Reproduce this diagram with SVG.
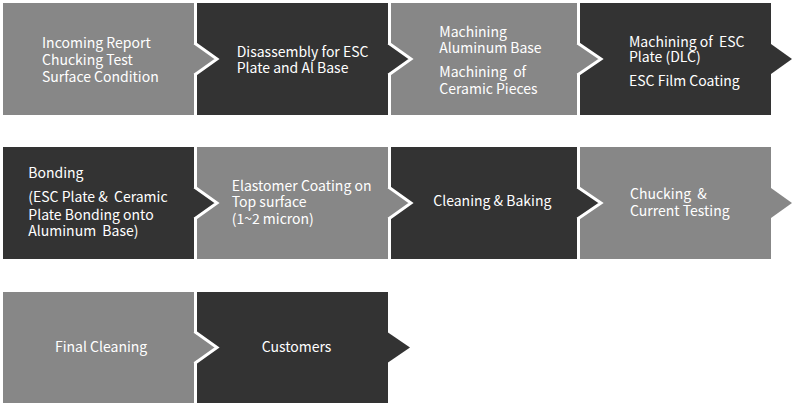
<svg xmlns="http://www.w3.org/2000/svg" width="797" height="416" viewBox="0 0 797 416">
<style>
.l{fill:#878787}
.d{fill:#333333}
.edge{fill:none;stroke:#ffffff;stroke-width:3;stroke-linejoin:miter}
text{font-family:"Noto Sans CJK KR","Noto Sans",sans-serif;font-size:14px;fill:#ffffff;white-space:pre}
</style>
<rect width="797" height="416" fill="#ffffff"/>
<g id="n1"><rect class="l" x="3" y="3" width="191" height="112"/>
<text x="42" y="48.3">Incoming Report</text><text x="42" y="65">Chucking Test</text><text x="42" y="81.7">Surface Condition</text></g>
<g id="n2"><rect class="d" x="197" y="3" width="191" height="112"/>
<text x="236.7" y="56.7">Disassembly for ESC</text><text x="236.7" y="73.3">Plate and Al Base</text></g>
<g id="n3"><rect class="l" x="391" y="3" width="186" height="112"/>
<text x="439.3" y="36.7">Machining</text><text x="439.3" y="53.3">Aluminum Base</text><text x="439.3" y="76.7">Machining  of</text><text x="439.3" y="94">Ceramic Pieces</text></g>
<g id="n4"><rect class="d" x="580" y="3" width="191" height="112"/>
<text x="629" y="46.7">Machining of  ESC</text><text x="629" y="62.3">Plate (DLC)</text><text x="629" y="85.7">ESC Film Coating</text></g>
<g id="n5"><rect class="d" x="3" y="147" width="191" height="112"/>
<text x="28.3" y="178.3">Bonding</text><text x="28.3" y="202.3">(ESC Plate &amp;  Ceramic</text><text x="28.3" y="219.7">Plate Bonding onto</text><text x="28.3" y="236.3">Aluminum  Base)</text></g>
<g id="n6"><rect class="l" x="197" y="147" width="191" height="112"/>
<text x="231.7" y="190.7">Elastomer Coating on</text><text x="231.7" y="207.3">Top surface</text><text x="231.7" y="224">(1~2 micron)</text></g>
<g id="n7"><rect class="d" x="391" y="147" width="186" height="112"/>
<text x="433.3" y="205.7">Cleaning &amp; Baking</text></g>
<g id="n8"><rect class="l" x="580" y="147" width="191" height="112"/>
<text x="630" y="199">Chucking  &amp;</text><text x="630" y="215.7">Current Testing</text></g>
<g id="n9"><rect class="l" x="3" y="292" width="191" height="111"/>
<text x="55" y="352.3">Final Cleaning</text></g>
<g id="n10"><rect class="d" x="197" y="292" width="191" height="111"/>
<text x="261.7" y="352.3">Customers</text></g>
<g id="connectors">
<polygon class="l" points="193,44 194,44 216,59 194,74 193,74"/><polyline class="edge" points="194.5,43 217,59 194.5,75"/>
<polygon class="d" points="387,44 388,44 410,59 388,74 387,74"/><polyline class="edge" points="388.5,43 411,59 388.5,75"/>
<polygon class="l" points="576,44 577,44 600,59 577,74 576,74"/><polyline class="edge" points="577.5,43 601,59 577.5,75"/>
<polygon class="d" points="770,44 771,44 792,59 771,74 770,74"/>
<polygon class="d" points="193,188 194,188 216,203 194,218 193,218"/><polyline class="edge" points="194.5,187 217,203 194.5,219"/>
<polygon class="l" points="387,188 388,188 410,203 388,218 387,218"/><polyline class="edge" points="388.5,187 411,203 388.5,219"/>
<polygon class="d" points="576,188 577,188 600,203 577,218 576,218"/><polyline class="edge" points="577.5,187 601,203 577.5,219"/>
<polygon class="l" points="770,188 771,188 792,203 771,218 770,218"/>
<polygon class="l" points="193,332.5 194,332.5 216,347.5 194,362.5 193,362.5"/><polyline class="edge" points="194.5,331.5 217,347.5 194.5,363.5"/>
<polygon class="d" points="387,332.5 388,332.5 410,347.5 388,362.5 387,362.5"/>
</g>
</svg>
